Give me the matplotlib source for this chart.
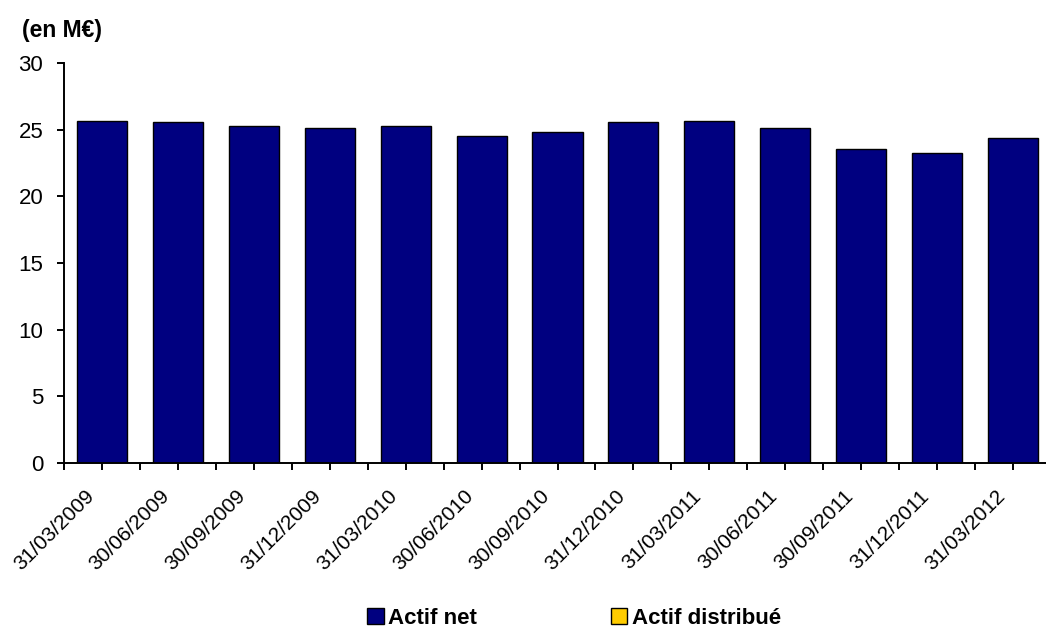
import numpy as np
import matplotlib
matplotlib.use('Agg')
from matplotlib import pyplot as plt
from matplotlib import transforms

#----------------------------Data----------------------------------------------#
dates = ['31/03/2009', '30/06/2009', '30/09/2009', '31/12/2009',
         '31/03/2010', '30/06/2010', '30/09/2010', '31/12/2010',
         '31/03/2011', '30/06/2011', '30/09/2011', '31/12/2011',
         '31/03/2012']
actif_net = [25.68, 25.56, 25.26, 25.11, 25.26, 24.55, 24.85, 25.56,
             25.68, 25.13, 23.56, 23.28, 24.40]
actif_distribue = [np.nan] * 13   # nothing shown on the chart
y_ticks = [0, 5, 10, 15, 20, 25, 30]

#----------------------------Style---------------------------------------------#
plt.rcParams['font.family'] = ['Liberation Sans', 'DejaVu Sans']
navy = '#000080'
yellow = '#FFCC00'

#----------------------------Plotting------------------------------------------#
fig = plt.figure(figsize=(10.46, 6.30), dpi=100)
ax = fig.add_axes([64/1046, 1-463/630, 987/1046, 400/630])

x = np.arange(len(dates))
ax.bar(x, actif_net, width=0.66, color=navy, edgecolor='black',
       linewidth=1.0, label='Actif net', zorder=2)
ax.bar(x, actif_distribue, width=0.66, color=yellow, edgecolor='black',
       linewidth=1.0, label='Actif distribué', zorder=2)

ax.set_xlim(-0.5, len(dates) - 0.5)
ax.set_ylim(0, 30)
ax.set_yticks(y_ticks)
ax.set_xticks(x)
ax.set_xticks(np.arange(-0.5, len(dates), 1.0), minor=True)
ax.set_xticklabels(dates, rotation=45, ha='right', va='center',
                   rotation_mode='anchor', fontsize=15)

for sp in ['top', 'right']:
    ax.spines[sp].set_visible(False)
for sp in ['left', 'bottom']:
    ax.spines[sp].set_linewidth(1.4)
    ax.spines[sp].set_color('black')

ax.tick_params(axis='y', direction='out', length=5, width=1.4,
               labelsize=16, pad=10)
ax.tick_params(axis='x', which='both', direction='out', length=5, width=1.4)
ax.tick_params(axis='x', which='major', pad=0)

# move the date labels down like the original
offset = transforms.ScaledTranslation(-11/100, -23/100, fig.dpi_scale_trans)
for lbl in ax.get_xticklabels():
    lbl.set_transform(lbl.get_transform() + offset)

fig.text(22/1046, 1 - 31/630, '(en M€)', fontsize=16.5, fontweight='bold',
         ha='left', va='center')

ax.legend(loc='center', bbox_to_anchor=(574/1046, 1 - 618/630),
          bbox_transform=fig.transFigure, ncol=2, frameon=False,
          prop={'weight': 'bold', 'size': 16}, handlelength=0.75,
          handleheight=0.75, handletextpad=0.2, columnspacing=6.0,
          borderpad=0.2)

fig.savefig('out.png', dpi=100)
